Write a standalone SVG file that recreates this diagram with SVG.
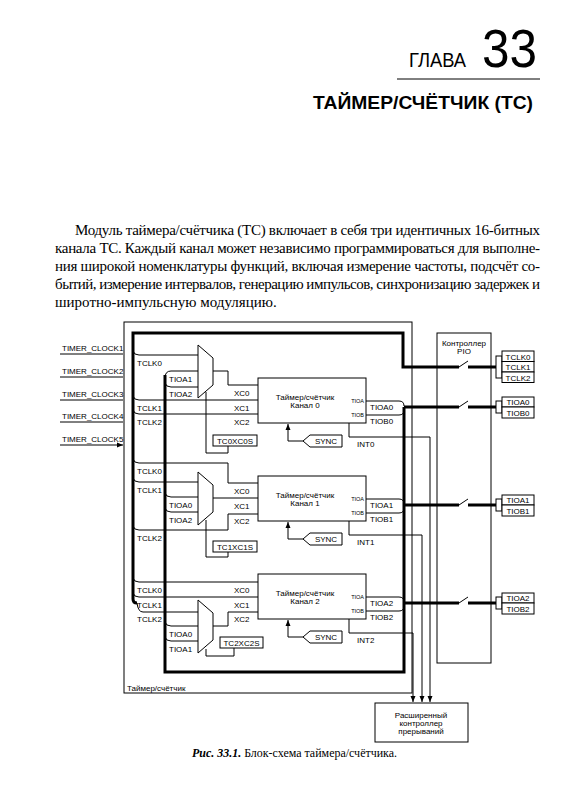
<svg xmlns="http://www.w3.org/2000/svg" width="571" height="800" viewBox="0 0 571 800">
<style>
.t{font-family:"Liberation Sans",Arial,sans-serif;font-size:8px;fill:#000}
.s{font-size:5.5px}
.m{text-anchor:middle}
.e{text-anchor:end}
.p{font-family:"Liberation Serif","Times New Roman",serif;font-size:15px;fill:#000}
.thin{stroke:#000;stroke-width:1;fill:none}
.thick{stroke:#000;stroke-width:3;fill:none}
.box{stroke:#000;stroke-width:1;fill:#fff}
.arr{stroke:#000;stroke-width:1;fill:none;marker-end:url(#ah)}
</style>
<defs>
<marker id="ah" markerUnits="userSpaceOnUse" markerWidth="6" markerHeight="6" viewBox="0 0 6 6" refX="6" refY="3" orient="auto"><path d="M0,0.5 L6,3 L0,5.5 Z" fill="#000"/></marker>
</defs>
<rect width="571" height="800" fill="#fff"/>
<g id="header">
<text x="409" y="67" font-family="Liberation Sans,Arial,sans-serif" font-size="21" textLength="57" lengthAdjust="spacingAndGlyphs">ГЛАВА</text>
<text x="482" y="67" font-family="Liberation Sans,Arial,sans-serif" font-size="54" textLength="55" lengthAdjust="spacingAndGlyphs">33</text>
<line x1="397" y1="79" x2="540" y2="79" stroke="#000" stroke-width="1"/>
<text x="313" y="109" font-family="Liberation Sans,Arial,sans-serif" font-size="18" font-weight="bold" textLength="220" lengthAdjust="spacingAndGlyphs">ТАЙМЕР/СЧЁТЧИК (ТС)</text>
</g>
<g id="paragraph">
<text class="p" x="75" y="235" textLength="465" lengthAdjust="spacing">Модуль таймера/счётчика (ТС) включает в себя три идентичных 16-битных</text>
<text class="p" x="55" y="253" textLength="485" lengthAdjust="spacing">канала ТС. Каждый канал может независимо программироваться для выполне-</text>
<text class="p" x="55" y="271" textLength="485" lengthAdjust="spacing">ния широкой номенклатуры функций, включая измерение частоты, подсчёт со-</text>
<text class="p" x="55" y="289" textLength="485" lengthAdjust="spacing">бытий, измерение интервалов, генерацию импульсов, синхронизацию задержек и</text>
<text class="p" x="55" y="307">широтно-импульсную модуляцию.</text>
</g>
<g id="outer-box">
<rect x="124" y="322" width="288" height="371" class="thin"/>
<text class="t" x="127" y="691" font-size="8.5">Таймер/счётчик</text>
</g>
<g id="timer-clocks">
<text class="t" x="62" y="351">TIMER_CLOCK1</text>
<text class="t" x="62" y="374">TIMER_CLOCK2</text>
<text class="t" x="62" y="397">TIMER_CLOCK3</text>
<text class="t" x="62" y="419">TIMER_CLOCK4</text>
<text class="t" x="62" y="442">TIMER_CLOCK5</text>
</g>
<g id="pio">
<rect x="437" y="333" width="54" height="330" class="thin"/>
<text class="t m" x="464" y="346">Контроллер</text>
<text class="t m" x="464" y="354">PIO</text>
</g>
<g id="irq">
<rect x="375" y="703" width="93" height="39" class="thin"/>
<text class="t m" x="421" y="718" font-size="8.5">Расширенный</text>
<text class="t m" x="421" y="726" font-size="8.5">контроллер</text>
<text class="t m" x="421" y="734" font-size="8.5">прерываний</text>
</g>
<g id="connectors">
<path class="arr" d="M60,354 H123 M60,377 H123 M60,400 H123 M60,422 H123 M60,445 H123"/>
<path class="thick" d="M459,367 H403 V333 H133 V599 Q133,603 137,603"/>
<path class="thick" d="M165,375 V672 H404 V407"/>
<path class="thick" d="M404,407 H459 M404,505 H459 M404,603 H459"/>
<path class="thick" d="M468,367 H496 M468,407 H496 M468,505 H496 M468,603 H496"/>
<path class="thin" stroke-width="2" d="M459,367 L468,361 M459,407 L468,401 M459,505 L468,499 M459,603 L468,597"/>
<path class="thin" d="M133,351 Q134,355 139,355 H198"/>
<path class="thin" d="M165,378 Q165,371 171,371 H198"/>
<path class="thin" d="M165,383 Q166,387 171,387 H198"/>
<path class="thin" d="M213,371 H228 V385 H258"/>
<path class="thin" d="M133,396 Q134,400 139,400 H258"/>
<path class="thin" d="M133,410 Q134,414 139,414 H258"/>
<path class="thin" d="M206,392 V453 H228 V446"/>
<path class="thin" d="M133,459 Q134,463 139,463 H228 V483 H258"/>
<path class="thin" d="M133,478 Q134,482 139,482 H198"/>
<path class="thin" d="M165,493 Q166,497 171,497 H198"/>
<path class="thin" d="M165,508 Q166,512 171,512 H198"/>
<path class="thin" d="M213,498 H258"/>
<path class="thin" d="M133,526 Q134,530 139,530 H228 V514 H258"/>
<path class="thin" d="M206,520 V557 H228 V552"/>
<path class="thin" d="M133,578 Q134,582 139,582 H258"/>
<path class="thin" d="M133,593 Q134,597 139,597 H258"/>
<path class="thin" d="M137,603 Q138,612 143,612 H198"/>
<path class="thin" d="M165,622 Q166,626 171,626 H198"/>
<path class="thin" d="M165,637 Q166,641 171,641 H198"/>
<path class="thin" d="M213,626 H228 V612 H258"/>
<path class="thin" d="M206,649 V656 H234 V648"/>
<path class="thin" d="M366,401 H399 Q404,401 404,406 M366,415 H399 Q404,415 404,410"/>
<path class="thin" d="M366,499 H399 Q404,499 404,504 M366,513 H399 Q404,513 404,508"/>
<path class="thin" d="M366,597 H399 Q404,597 404,602 M366,611 H399 Q404,611 404,606"/>
<path class="arr" d="M303,441 H288 V424"/>
<path class="arr" d="M303,539 H288 V522"/>
<path class="arr" d="M303,637 H288 V620"/>
<path class="arr" d="M349,423 V437 H430 V702"/>
<path class="arr" d="M349,521 V535 H422 V702"/>
<path class="arr" d="M349,619 V633 H413 V702"/>
</g>
<g id="mux0"><polygon class="box" points="198,345 213,358 213,385 198,398"/></g>
<g id="mux1"><polygon class="box" points="198,472 213,485 213,512 198,525"/></g>
<g id="mux2"><polygon class="box" points="198,600 213,613 213,640 198,653"/></g>
<g id="labels-left">
<text class="t" x="137" y="366">TCLK0</text>
<text class="t" x="169" y="382">TIOA1</text>
<text class="t" x="169" y="397">TIOA2</text>
<text class="t" x="137" y="411">TCLK1</text>
<text class="t" x="137" y="425">TCLK2</text>
<text class="t" x="234" y="396">XC0</text>
<text class="t" x="234" y="411">XC1</text>
<text class="t" x="234" y="425">XC2</text>
<text class="t" x="137" y="474">TCLK0</text>
<text class="t" x="137" y="493">TCLK1</text>
<text class="t" x="169" y="508">TIOA0</text>
<text class="t" x="169" y="523">TIOA2</text>
<text class="t" x="137" y="541">TCLK2</text>
<text class="t" x="234" y="494">XC0</text>
<text class="t" x="234" y="509">XC1</text>
<text class="t" x="234" y="524">XC2</text>
<text class="t" x="137" y="593">TCLK0</text>
<text class="t" x="137" y="608">TCLK1</text>
<text class="t" x="137" y="622">TCLK2</text>
<text class="t" x="169" y="637">TIOA0</text>
<text class="t" x="169" y="652">TIOA1</text>
<text class="t" x="234" y="593">XC0</text>
<text class="t" x="234" y="608">XC1</text>
<text class="t" x="234" y="622">XC2</text>
</g>
<g id="sel0"><rect class="box" x="213" y="435" width="44" height="11"/><text class="t m" x="235" y="444">TC0XC0S</text></g>
<g id="sel1"><rect class="box" x="213" y="541" width="44" height="11"/><text class="t m" x="235" y="550">TC1XC1S</text></g>
<g id="sel2"><rect class="box" x="220" y="637" width="43" height="11"/><text class="t m" x="241.5" y="646">TC2XC2S</text></g>
<g id="ch0">
<rect class="box" x="258" y="378" width="108" height="45"/>
<text class="t m" x="305" y="400" font-size="8.5">Таймер/счётчик</text>
<text class="t m" x="305" y="408" font-size="8.5">Канал 0</text>
<text class="t s e" x="364" y="403">TIOA</text>
<text class="t s e" x="364" y="417">TIOB</text>
<text class="t" x="370" y="410">TIOA0</text>
<text class="t" x="370" y="424">TIOB0</text>
<text class="t" x="357" y="447">INT0</text>
</g>
<g id="ch1">
<rect class="box" x="258" y="476" width="108" height="45"/>
<text class="t m" x="305" y="498" font-size="8.5">Таймер/счётчик</text>
<text class="t m" x="305" y="506" font-size="8.5">Канал 1</text>
<text class="t s e" x="364" y="501">TIOA</text>
<text class="t s e" x="364" y="515">TIOB</text>
<text class="t" x="370" y="508">TIOA1</text>
<text class="t" x="370" y="522">TIOB1</text>
<text class="t" x="357" y="545">INT1</text>
</g>
<g id="ch2">
<rect class="box" x="258" y="574" width="108" height="45"/>
<text class="t m" x="305" y="596" font-size="8.5">Таймер/счётчик</text>
<text class="t m" x="305" y="604" font-size="8.5">Канал 2</text>
<text class="t s e" x="364" y="599">TIOA</text>
<text class="t s e" x="364" y="613">TIOB</text>
<text class="t" x="370" y="606">TIOA2</text>
<text class="t" x="370" y="620">TIOB2</text>
<text class="t" x="357" y="643">INT2</text>
</g>
<g id="sync0"><polygon class="box" points="303,441 310,435 342,435 342,447 310,447"/><text class="t m" x="326" y="444" font-size="7">SYNC</text></g>
<g id="sync1"><polygon class="box" points="303,539 310,533 342,533 342,545 310,545"/><text class="t m" x="326" y="542" font-size="7">SYNC</text></g>
<g id="sync2"><polygon class="box" points="303,637 310,631 342,631 342,643 310,643"/><text class="t m" x="326" y="640" font-size="7">SYNC</text></g>
<g id="pins-tclk">
<rect class="box" x="496" y="356" width="6" height="22"/>
<rect class="box" x="502" y="351" width="32" height="10.5"/><text class="t m" x="518" y="359.5">TCLK0</text>
<rect class="box" x="502" y="361.5" width="32" height="10.5"/><text class="t m" x="518" y="370">TCLK1</text>
<rect class="box" x="502" y="372" width="32" height="10.5"/><text class="t m" x="518" y="380.5">TCLK2</text>
</g>
<g id="pins-0">
<rect class="box" x="496" y="401" width="6" height="12"/>
<rect class="box" x="502" y="397" width="32" height="10"/><text class="t m" x="518" y="405">TIOA0</text>
<rect class="box" x="502" y="407" width="32" height="11"/><text class="t m" x="518" y="415.5">TIOB0</text>
</g>
<g id="pins-1">
<rect class="box" x="496" y="499" width="6" height="12"/>
<rect class="box" x="502" y="495" width="32" height="10"/><text class="t m" x="518" y="503">TIOA1</text>
<rect class="box" x="502" y="505" width="32" height="11"/><text class="t m" x="518" y="513.5">TIOB1</text>
</g>
<g id="pins-2">
<rect class="box" x="496" y="597" width="6" height="12"/>
<rect class="box" x="502" y="593" width="32" height="10"/><text class="t m" x="518" y="601">TIOA2</text>
<rect class="box" x="502" y="603" width="32" height="11"/><text class="t m" x="518" y="611.5">TIOB2</text>
</g>
<g id="caption">
<text x="192" y="757" font-family="Liberation Serif,Times New Roman,serif" font-size="12" textLength="205" lengthAdjust="spacingAndGlyphs"><tspan font-weight="bold" font-style="italic">Рис. 33.1.</tspan> Блок-схема таймера/счётчика.</text>
</g>
</svg>
